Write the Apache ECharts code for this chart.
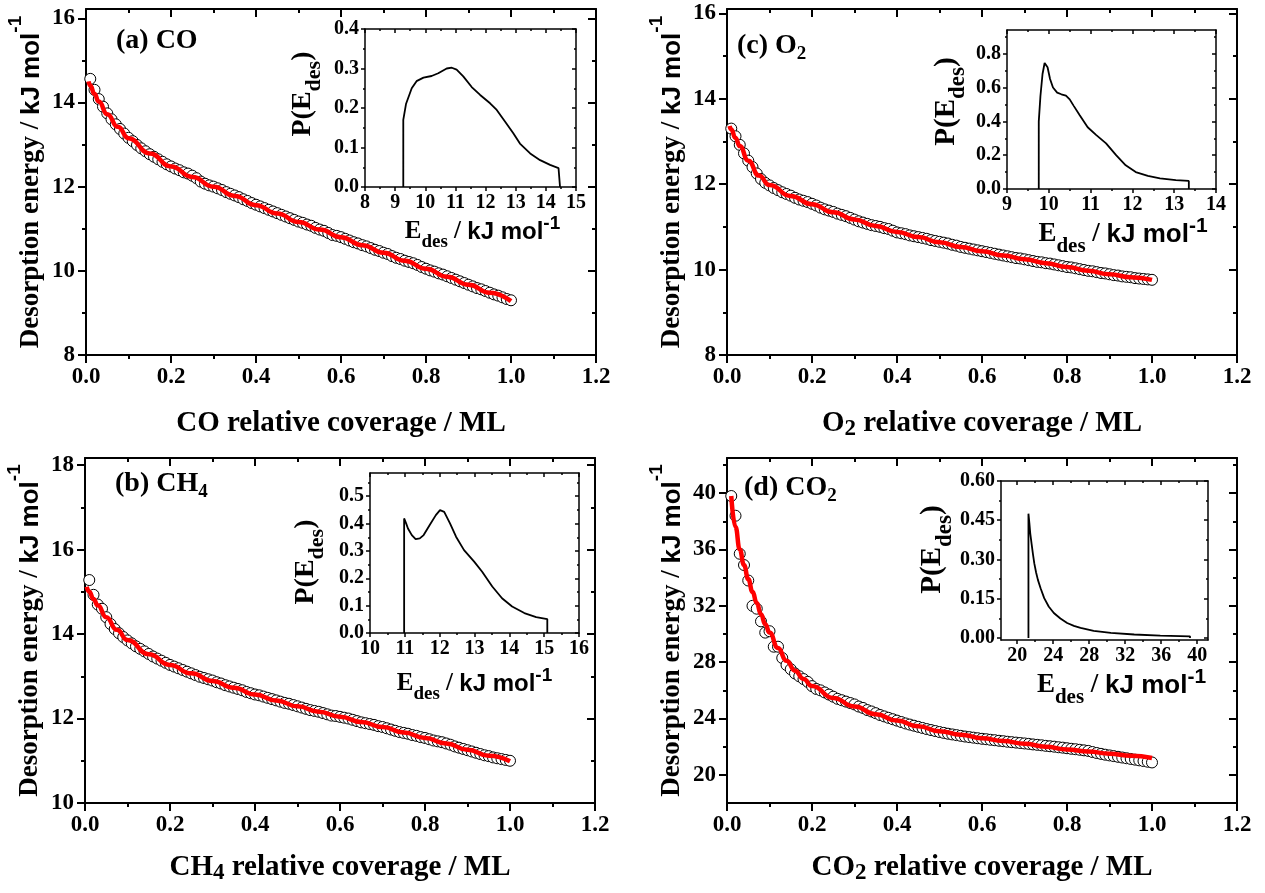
<!DOCTYPE html>
<html>
<head>
<meta charset="utf-8">
<script src="https://cdn.jsdelivr.net/npm/echarts@6/dist/echarts.min.js"></script>
<style>
  html, body { margin: 0; padding: 0; background: #fff; }
  #chart { width: 1265px; height: 893px; }
</style>
</head>
<body>
<div id="chart"></div>
<script>
// ---------- data ----------
const coverage = [0.01,0.02,0.03,0.04,0.05,0.06,0.07,0.08,0.09,0.10,
  0.11,0.12,0.13,0.14,0.15,0.16,0.17,0.18,0.19,0.20,
  0.21,0.22,0.23,0.24,0.25,0.26,0.27,0.28,0.29,0.30,
  0.31,0.32,0.33,0.34,0.35,0.36,0.37,0.38,0.39,0.40,
  0.41,0.42,0.43,0.44,0.45,0.46,0.47,0.48,0.49,0.50,
  0.51,0.52,0.53,0.54,0.55,0.56,0.57,0.58,0.59,0.60,
  0.61,0.62,0.63,0.64,0.65,0.66,0.67,0.68,0.69,0.70,
  0.71,0.72,0.73,0.74,0.75,0.76,0.77,0.78,0.79,0.80,
  0.81,0.82,0.83,0.84,0.85,0.86,0.87,0.88,0.89,0.90,
  0.91,0.92,0.93,0.94,0.95,0.96,0.97,0.98,0.99,1.00];

// (a) CO: measured desorption energies and fit
const coEnergy = [14.56,14.30,14.08,13.90,13.74,13.60,13.48,13.37,13.26,13.16,
  13.08,12.99,12.91,12.84,12.77,12.71,12.65,12.59,12.53,12.48,
  12.43,12.39,12.34,12.31,12.26,12.20,12.12,12.07,12.03,12.00,
  11.96,11.92,11.87,11.83,11.79,11.75,11.70,11.66,11.61,11.57,
  11.53,11.49,11.45,11.41,11.37,11.33,11.29,11.25,11.21,11.17,
  11.14,11.10,11.07,11.02,10.98,10.95,10.90,10.85,10.83,10.80,
  10.76,10.72,10.68,10.65,10.61,10.58,10.54,10.50,10.47,10.43,
  10.40,10.35,10.31,10.28,10.24,10.21,10.18,10.14,10.09,10.05,
  10.01,9.98,9.94,9.91,9.87,9.83,9.79,9.75,9.71,9.67,
  9.63,9.59,9.56,9.52,9.48,9.44,9.41,9.37,9.33,9.30];
const coFitX = [0.006,0.01,0.02,0.03,0.05,0.075,0.10,0.15,0.20,0.25,0.30,0.35,0.40,0.45,0.50,0.55,0.60,0.65,0.70,0.75,0.80,0.85,0.90,0.95,1.00];
const coFitY = [14.50,14.40,14.20,14.02,13.72,13.42,13.15,12.79,12.48,12.23,12.00,11.78,11.56,11.36,11.16,10.98,10.80,10.61,10.43,10.24,10.05,9.86,9.67,9.48,9.28];

// (b) CH4
const ch4Energy = [15.28,14.93,14.70,14.60,14.40,14.24,14.12,14.02,13.93,13.85,
  13.78,13.71,13.65,13.59,13.53,13.47,13.42,13.37,13.32,13.27,
  13.23,13.19,13.15,13.11,13.07,13.03,12.99,12.96,12.93,12.90,
  12.86,12.83,12.79,12.76,12.73,12.70,12.67,12.63,12.60,12.57,
  12.55,12.52,12.49,12.46,12.43,12.40,12.37,12.35,12.32,12.29,
  12.26,12.23,12.20,12.18,12.16,12.13,12.10,12.07,12.06,12.04,
  12.02,12.00,11.97,11.94,11.91,11.89,11.87,11.85,11.82,11.80,
  11.77,11.74,11.71,11.68,11.66,11.64,11.61,11.59,11.56,11.54,
  11.51,11.48,11.46,11.44,11.41,11.38,11.34,11.31,11.28,11.25,
  11.22,11.19,11.16,11.13,11.11,11.08,11.06,11.04,11.02,11.00];
const ch4FitX = [0.004,0.01,0.02,0.03,0.05,0.075,0.10,0.15,0.20,0.25,0.30,0.35,0.40,0.45,0.50,0.55,0.60,0.65,0.70,0.75,0.80,0.85,0.90,0.95,1.00];
const ch4FitY = [15.12,15.00,14.83,14.68,14.40,14.10,13.86,13.52,13.27,13.07,12.89,12.73,12.57,12.43,12.29,12.16,12.04,11.92,11.80,11.67,11.54,11.41,11.26,11.12,10.99];

// (c) O2
const o2Energy = [13.30,13.12,12.92,12.72,12.55,12.40,12.25,12.12,12.03,11.97,
  11.91,11.86,11.81,11.77,11.73,11.68,11.64,11.61,11.58,11.54,
  11.50,11.45,11.41,11.38,11.35,11.31,11.28,11.25,11.21,11.17,
  11.13,11.10,11.07,11.04,11.02,11.00,10.97,10.95,10.91,10.87,
  10.85,10.83,10.80,10.78,10.76,10.74,10.72,10.69,10.67,10.65,
  10.63,10.61,10.58,10.56,10.53,10.51,10.49,10.47,10.45,10.43,
  10.41,10.39,10.37,10.35,10.33,10.31,10.29,10.27,10.26,10.24,
  10.22,10.20,10.18,10.17,10.15,10.14,10.12,10.10,10.08,10.06,
  10.05,10.03,10.01,9.99,9.97,9.96,9.94,9.92,9.91,9.89,
  9.87,9.86,9.84,9.83,9.82,9.80,9.79,9.78,9.77,9.76];
const o2FitX = [0.006,0.01,0.02,0.03,0.05,0.075,0.10,0.15,0.20,0.25,0.30,0.35,0.40,0.45,0.50,0.55,0.60,0.65,0.70,0.75,0.80,0.85,0.90,0.95,1.00];
const o2FitY = [13.36,13.28,13.08,12.89,12.55,12.20,11.98,11.72,11.53,11.34,11.17,11.02,10.88,10.76,10.64,10.53,10.43,10.33,10.24,10.15,10.06,9.97,9.89,9.82,9.76];

// (d) CO2
const co2Energy = [39.8,38.4,35.7,34.9,33.8,32.0,31.8,30.9,30.1,30.2,
  29.1,29.1,28.3,27.8,27.5,27.2,27.0,26.8,26.6,26.3,
  26.1,26.0,25.85,25.7,25.55,25.4,25.3,25.2,25.1,25.0,
  24.85,24.75,24.6,24.5,24.38,24.25,24.15,24.05,23.95,23.85,
  23.75,23.65,23.57,23.49,23.41,23.33,23.25,23.18,23.11,23.04,
  22.98,22.92,22.87,22.82,22.77,22.72,22.68,22.64,22.6,22.56,
  22.53,22.49,22.46,22.42,22.39,22.35,22.32,22.29,22.26,22.23,
  22.2,22.16,22.13,22.1,22.06,22.03,22.0,21.96,21.93,21.89,
  21.85,21.82,21.78,21.74,21.7,21.62,21.55,21.49,21.43,21.38,
  21.33,21.28,21.23,21.18,21.13,21.08,21.03,20.98,20.93,20.88];
const co2FitX = [0.01,0.02,0.03,0.04,0.05,0.06,0.07,0.08,0.09,0.10,0.12,0.14,0.16,0.18,0.20,0.25,0.30,0.35,0.40,0.45,0.50,0.55,0.60,0.65,0.70,0.75,0.80,0.85,0.90,0.95,1.00];
const co2FitY = [39.8,37.6,36.0,34.9,33.9,33.0,32.2,31.4,30.7,30.1,29.0,28.1,27.4,26.8,26.3,25.45,24.85,24.3,23.85,23.45,23.1,22.85,22.6,22.4,22.2,22.0,21.8,21.65,21.5,21.35,21.2];

// insets: distribution of desorption energies P(Edes)
const coDistE  = [9.27,9.27,9.36,9.55,9.71,9.94,10.21,10.43,10.71,10.88,11.04,11.26,11.54,11.82,12.15,12.37,12.65,12.92,13.14,13.48,13.81,14.14,14.42,14.47,14.47];
const coDistP  = [0,0.17,0.21,0.25,0.268,0.277,0.281,0.288,0.30,0.302,0.297,0.28,0.253,0.233,0.212,0.195,0.165,0.136,0.11,0.085,0.068,0.056,0.048,0.046,0];
const o2DistE  = [9.76,9.76,9.80,9.85,9.90,9.93,9.97,10.03,10.10,10.20,10.30,10.41,10.50,10.60,10.74,10.93,11.13,11.37,11.61,11.84,12.08,12.37,12.66,13.04,13.35,13.35];
const o2DistP  = [0,0.40,0.55,0.68,0.745,0.755,0.72,0.65,0.60,0.57,0.56,0.552,0.53,0.49,0.436,0.365,0.32,0.27,0.20,0.14,0.10,0.077,0.063,0.053,0.048,0];
const ch4DistE = [10.98,10.98,11.04,11.09,11.20,11.31,11.43,11.54,11.71,11.89,12.01,12.13,12.30,12.47,12.70,12.99,13.22,13.51,13.79,14.08,14.43,14.77,15.09,15.09];
const ch4DistP = [0,0.419,0.40,0.382,0.358,0.343,0.346,0.358,0.394,0.431,0.449,0.443,0.40,0.352,0.303,0.261,0.224,0.17,0.127,0.097,0.073,0.058,0.051,0];
const co2DistE = [21.25,21.25,21.35,21.45,21.6,21.75,21.9,22.1,22.3,22.6,23.0,23.5,24.07,24.8,25.55,26.3,27.04,28.5,30.4,33.0,35.9,39.2,39.2];
const co2DistP = [0,0.475,0.44,0.40,0.36,0.32,0.285,0.25,0.222,0.19,0.152,0.12,0.095,0.074,0.057,0.046,0.038,0.027,0.019,0.013,0.009,0.006,0];

// tick values
const coverageTicks = [0,0.2,0.4,0.6,0.8,1.0,1.2];
const coverageMinor = [0.1,0.3,0.5,0.7,0.9,1.1];
const coEnergyTicks = [8,10,12,14,16];
const coEnergyMinor = [9,11,13,15];
const ch4EnergyTicks = [10,12,14,16,18];
const ch4EnergyMinor = [11,13,15,17];
const co2EnergyTicks = [20,24,28,32,36,40];
const co2EnergyMinor = [22,26,30,34,38,42];
const coDistETicks = [8,9,10,11,12,13,14,15];
const coDistEMinor = [8.5,9.5,10.5,11.5,12.5,13.5,14.5];
const coDistPTicks = [0,0.1,0.2,0.3,0.4];
const coDistPMinor = [0.05,0.15,0.25,0.35];
const o2DistETicks = [9,10,11,12,13,14];
const o2DistEMinor = [9.5,10.5,11.5,12.5,13.5];
const o2DistPTicks = [0,0.2,0.4,0.6,0.8];
const o2DistPMinor = [0.1,0.3,0.5,0.7,0.9];
const ch4DistETicks = [10,11,12,13,14,15,16];
const ch4DistEMinor = [10.5,11.5,12.5,13.5,14.5,15.5];
const ch4DistPTicks = [0,0.1,0.2,0.3,0.4,0.5];
const ch4DistPMinor = [0.05,0.15,0.25,0.35,0.45,0.55];
const co2DistETicks = [20,24,28,32,36,40];
const co2DistEMinor = [22,26,30,34,38];
const co2DistPTicks = [0,0.15,0.30,0.45,0.60];
const co2DistPMinor = [0.075,0.225,0.375,0.525];

// titles
const panelTags = ['{s|(a) CO}', '{s|(c) O}{b|2}', '{s|(b) CH}{b|4}', '{s|(d) CO}{b|2}'];
const coverageTitles = ['{s|CO relative coverage / ML}', '{s|O}{b|2}{s| relative coverage / ML}',
                        '{s|CH}{b|4}{s| relative coverage / ML}', '{s|CO}{b|2}{s| relative coverage / ML}'];
const energyTitle = '{s|Desorption energy / }{k|kJ mol}{p|-1}';
const distXTitle = '{s|E}{d|des}{s| / }{k|kJ mol}{p|-1}';
const distYTitle = '{s|P(E}{d|des}{s|)}';

// ---------- helpers ----------
const SERIF = '"Liberation Serif","Times New Roman",serif';
const SANS = '"Liberation Sans",Arial,sans-serif';
const pairs = (xs, ys) => xs.map((x, i) => [x, ys[i]]);

function tok(family, size, padTop) {
  return { fontFamily: family, fontWeight: 'bold', fontSize: size, color: '#000',
           verticalAlign: 'top', padding: [padTop, 0, 0, 0] };
}

const energyRich = { s: tok(SERIF, 27, 14), k: tok(SANS, 26, 15), p: tok(SANS, 19, 2) };
const coverageRich = { s: tok(SERIF, 29, 0), b: tok(SERIF, 23, 9) };
const tagRich = { s: tok(SERIF, 28, 0), b: tok(SERIF, 19, 13) };
function distXRich(F) {
  return { s: tok(SERIF, F, 8), d: tok(SERIF, Math.round(F * 0.76), Math.round(8 + 0.55 * F)),
           k: tok(SANS, F - 1, 9), p: tok(SANS, Math.round(F * 0.76), Math.round(8 - 0.2 * F)) };
}
function distYRich(F) {
  return { s: tok(SERIF, F, 0), d: tok(SERIF, Math.round(F * 0.8), Math.round(0.51 * F)) };
}

const xAxes = [], yAxes = [];

// Four axes per dimension: labelled side + its minor ticks, mirrored side + its minor ticks.
function frame(grid, dim, o) {
  const list = dim === 'x' ? xAxes : yAxes;
  const sides = dim === 'x' ? ['bottom', 'top'] : ['left', 'right'];
  const common = { type: 'value', gridIndex: grid, min: o.min, max: o.max,
                   splitLine: { show: false }, splitArea: { show: false }, silent: true };
  const line = show => ({ show, onZero: false, lineStyle: { color: '#000', width: o.lw } });
  const tick = (vals, len, inside) => ({ show: true, inside, length: len, customValues: vals,
                                         lineStyle: { color: '#000', width: o.lw } });
  const idx = list.length;
  list.push(Object.assign({}, common, {
    position: sides[0], axisLine: line(true), axisTick: tick(o.majors, o.tl, false),
    axisLabel: { show: true, customValues: o.majors, formatter: o.fmt, margin: o.lm,
                 color: '#000', fontFamily: SERIF, fontWeight: 'bold', fontSize: o.fs },
    name: o.name, nameLocation: 'middle', nameGap: o.gap,
    nameTextStyle: { rich: o.rich, padding: o.pad || [0, 0, 0, 0] }
  }));
  list.push(Object.assign({}, common, { position: sides[0], axisLine: line(false),
    axisTick: tick(o.minors, o.ml, false), axisLabel: { show: false } }));
  list.push(Object.assign({}, common, { position: sides[1], axisLine: line(true),
    axisTick: tick(o.majors, o.tl, true), axisLabel: { show: false } }));
  list.push(Object.assign({}, common, { position: sides[1], axisLine: line(false),
    axisTick: tick(o.minors, o.ml, true), axisLabel: { show: false } }));
  return idx;
}

const fmt1 = v => v.toFixed(1);
const fmt2 = v => v.toFixed(2);
const fmt0 = v => String(Math.round(v));

// ---------- layout ----------
const grids = [
  { left: 86,  top: 9,   width: 510, height: 346 },  // (a)
  { left: 727, top: 9,   width: 510, height: 346 },  // (c)
  { left: 85,  top: 458, width: 510, height: 345 },  // (b)
  { left: 727, top: 458, width: 510, height: 345 },  // (d)
  { left: 365, top: 29,  width: 211, height: 158 },  // inset (a)
  { left: 1007, top: 30, width: 209, height: 159 },  // inset (c)
  { left: 370, top: 473, width: 209, height: 160 },  // inset (b)
  { left: 1001, top: 481, width: 207, height: 159 }  // inset (d)
].map(g => Object.assign({ show: false, containLabel: false, outerBoundsMode: 'none' }, g));

const mainPanels = [
  { yMin: 8,  yMax: 16.22, yT: coEnergyTicks,  yM: coEnergyMinor,  xGap: 54, circles: coEnergy,  fx: coFitX,  fy: coFitY },
  { yMin: 8,  yMax: 16.1,  yT: coEnergyTicks,  yM: coEnergyMinor,  xGap: 54, circles: o2Energy,  fx: o2FitX,  fy: o2FitY },
  { yMin: 10, yMax: 18.17, yT: ch4EnergyTicks, yM: ch4EnergyMinor, xGap: 50, circles: ch4Energy, fx: ch4FitX, fy: ch4FitY },
  { yMin: 18, yMax: 42.5,  yT: co2EnergyTicks, yM: co2EnergyMinor, xGap: 50, circles: co2Energy, fx: co2FitX, fy: co2FitY }
];

const insets = [
  { xMin: 8,  xMax: 15, yMin: 0, yMax: 0.4,  xT: coDistETicks,  xM: coDistEMinor,  yT: coDistPTicks,  yM: coDistPMinor,  yFmt: fmt1, F: 25, YF: 28, xGap: 12, xPad: [0,0,0,24], yGap: 40, yPad: [0,0,0,28], e: coDistE,  p: coDistP },
  { xMin: 9,  xMax: 14, yMin: 0, yMax: 0.94, xT: o2DistETicks,  xM: o2DistEMinor,  yT: o2DistPTicks,  yM: o2DistPMinor,  yFmt: fmt1, F: 27, YF: 29, xGap: 15, xPad: [0,0,0,23], yGap: 37, yPad: [0,0,0,16], e: o2DistE,  p: o2DistP },
  { xMin: 10, xMax: 16, yMin: 0, yMax: 0.585, xT: ch4DistETicks, xM: ch4DistEMinor, yT: ch4DistPTicks, yM: ch4DistPMinor, yFmt: fmt1, F: 25, YF: 28, xGap: 30, xPad: [0,0,0,0], yGap: 42, yPad: [0,18,0,0], e: ch4DistE, p: ch4DistP },
  { xMin: 18.2, xMax: 41.2, yMin: -0.008, yMax: 0.6, xT: co2DistETicks, xM: co2DistEMinor, yT: co2DistPTicks, yM: co2DistPMinor, yFmt: fmt2, F: 27, YF: 29, xGap: 19, xPad: [0,0,0,34], yGap: 43, yPad: [0,0,0,22], e: co2DistE, p: co2DistP }
];

const series = [];

mainPanels.forEach((m, i) => {
  const xi = frame(i, 'x', { min: 0, max: 1.2, majors: coverageTicks, minors: coverageMinor, fmt: fmt1,
    fs: 23, lm: 11, lw: 2, tl: 8, ml: 4, name: coverageTitles[i], gap: m.xGap, rich: coverageRich });
  const yi = frame(i, 'y', { min: m.yMin, max: m.yMax, majors: m.yT, minors: m.yM, fmt: fmt0,
    fs: 23, lm: 11, lw: 2, tl: 8, ml: 4, name: energyTitle, gap: 41, rich: energyRich });
  series.push({ type: 'scatter', xAxisIndex: xi, yAxisIndex: yi, data: pairs(coverage, m.circles),
    symbol: 'circle', symbolSize: 11, z: 2,
    itemStyle: { color: '#fff', borderColor: '#000', borderWidth: 1, opacity: 1 } });
  series.push({ type: 'line', xAxisIndex: xi, yAxisIndex: yi, data: pairs(m.fx, m.fy),
    showSymbol: false, smooth: true, smoothMonotone: 'x', z: 3,
    lineStyle: { color: '#ff0000', width: 4.5 } });
});

insets.forEach((s, j) => {
  const g = 4 + j;
  const xi = frame(g, 'x', { min: s.xMin, max: s.xMax, majors: s.xT, minors: s.xM, fmt: fmt0,
    fs: 20, lm: 6, lw: 1.5, tl: 4, ml: 2, name: distXTitle, gap: s.xGap, rich: distXRich(s.F), pad: s.xPad });
  const yi = frame(g, 'y', { min: s.yMin, max: s.yMax, majors: s.yT, minors: s.yM, fmt: s.yFmt,
    fs: 20, lm: 6, lw: 1.5, tl: 4, ml: 2, name: distYTitle, gap: s.yGap, rich: distYRich(s.YF), pad: s.yPad });
  series.push({ type: 'line', xAxisIndex: xi, yAxisIndex: yi, data: pairs(s.e, s.p),
    showSymbol: false, smooth: false, z: 3, lineStyle: { color: '#000', width: 1.8 } });
});

const tagPos = [[116, 27], [737, 32], [115, 470], [744, 474]];
const graphic = panelTags.map((t, i) => ({
  type: 'text', left: tagPos[i][0], top: tagPos[i][1], z: 10,
  style: { text: t, rich: tagRich }
}));

const chart = echarts.init(document.getElementById('chart'), null, { renderer: 'canvas' });
chart.setOption({
  animation: false,
  backgroundColor: '#fff',
  grid: grids,
  xAxis: xAxes,
  yAxis: yAxes,
  series: series,
  graphic: graphic
});
</script>
</body>
</html>
